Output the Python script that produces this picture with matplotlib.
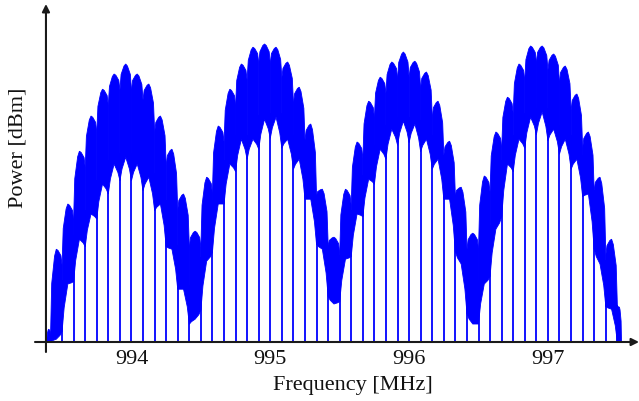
import matplotlib
matplotlib.use("Agg")
import matplotlib.pyplot as plt

# Comb nulls of the spectrum (MHz)
null_freqs = [993.417, 993.500, 993.583, 993.667, 993.750, 993.833, 993.917,
              994.000, 994.083, 994.167, 994.250, 994.333, 994.417, 994.500,
              994.583, 994.667, 994.750, 994.833, 994.917, 995.000, 995.083,
              995.167, 995.250, 995.333, 995.417, 995.500, 995.583, 995.667,
              995.750, 995.833, 995.917, 996.000, 996.083, 996.167, 996.250,
              996.333, 996.417, 996.500, 996.583, 996.667, 996.750, 996.833,
              996.917, 997.000, 997.083, 997.167, 997.250, 997.333, 997.417,
              997.500]
span_start = 993.39   # first measured frequency (MHz)
span_end = 997.53     # last measured frequency (MHz)

# Peak level of each lobe between consecutive nulls (dBm)
lobe_peak = [-96.8, -76.8, -65.5, -52.3, -43.5, -36.8, -33.0, -30.5, -33.0, -35.5,
             -43.5, -51.8, -63.0, -72.3,
             -58.8, -46.0, -36.8, -30.5, -26.3, -25.5, -26.3, -30.0, -36.3, -45.5,
             -61.8, -73.8,
             -61.8, -50.0, -39.8, -33.8, -30.0, -27.5, -29.8, -32.5, -39.8, -49.8,
             -61.3, -72.8,
             -58.5, -47.5, -38.8, -30.5, -26.0, -26.0, -28.0, -31.0, -38.0, -47.5,
             -58.8, -74.3, -91.3]
# Lower edge of the noise band in each lobe (dBm)
lobe_floor = [-100.0, -99.3, -85.5, -74.3, -68.0, -60.5, -55.5, -53.8, -55.5, -58.8,
              -65.5, -76.8, -86.8, -94.3,
              -79.8, -65.5, -55.5, -49.3, -49.3, -44.3, -43.8, -49.3, -54.3, -64.3,
              -76.8, -90.5,
              -79.3, -68.0, -59.3, -51.8, -46.8, -44.8, -45.5, -49.3, -54.3, -64.3,
              -80.5, -95.5,
              -85.5, -71.8, -55.5, -49.3, -43.8, -42.5, -46.8, -49.3, -54.3, -63.0,
              -80.5, -91.8, -100.0]

freq_ticks = [994, 995, 996, 997]
noise_floor = -100.0

BLUE = "#0000ff"
AXIS = "#1a1a1a"
plt.rcParams["font.family"] = ["Liberation Serif", "DejaVu Serif"]

fig = plt.figure(figsize=(6.39, 4.02), dpi=100)
ax = fig.add_axes([35 / 639, 49 / 402, 604 / 639, 348 / 402])
x_lo, x_hi = 993.305, 997.656
y_lo, y_hi = -102.5, -15.5
ax.set_xlim(x_lo, x_hi)
ax.set_ylim(y_lo, y_hi)

edges = [span_start] + null_freqs + [span_end]
n_lobes = len(lobe_peak)
notch_depth = 4.0
flare = 5.0

# upper-envelope notch and band bottom at each edge
notch, edge_floor = [], []
for j in range(len(edges)):
    if j == 0 or j == len(edges) - 1:
        k = 0 if j == 0 else n_lobes - 1
        notch.append(lobe_floor[k])
        edge_floor.append(noise_floor)
        continue
    n = min(lobe_peak[j - 1], lobe_peak[j]) - notch_depth
    n = max(n, lobe_floor[j - 1] + 1.0, lobe_floor[j] + 1.0)
    notch.append(n)
    edge_floor.append(max(0.5 * (lobe_floor[j - 1] + lobe_floor[j]) - flare,
                          noise_floor))

# null lines reaching down to the noise floor
for j, f in enumerate(null_freqs):
    top = max(lobe_floor[j], lobe_floor[j + 1]) + 1.0
    ax.plot([f, f], [noise_floor, top], color=BLUE, lw=1.3, solid_capstyle="butt",
            zorder=2)

# each lobe as a peaked dome over its noise band
for i in range(n_lobes):
    a, b = edges[i], edges[i + 1]
    w = b - a
    c = 0.5 * (a + b)
    p, fl = lobe_peak[i], lobe_floor[i]
    nl, nr = notch[i], notch[i + 1]
    bl, br = edge_floor[i], edge_floor[i + 1]
    xs = [a, a + 0.1 * w, a + 0.35 * w, c, b - 0.35 * w, b - 0.1 * w, b,
          b, b - 0.18 * w, c, a + 0.18 * w, a]
    ys = [nl, p - 0.4 * (p - nl), p - 0.08 * (p - nl), p,
          p - 0.08 * (p - nr), p - 0.4 * (p - nr), nr,
          br, 0.5 * (fl + br), fl, 0.5 * (fl + bl), bl]
    ax.fill(xs, ys, facecolor=BLUE, edgecolor=BLUE, lw=0.6, zorder=3)

# axes drawn as arrows crossing near the origin
for s in ax.spines.values():
    s.set_visible(False)
ax.spines["bottom"].set_position(("data", noise_floor))
y_axis_x = 993.384
ax.annotate("", xy=(x_hi, noise_floor), xytext=(x_lo, noise_floor),
            arrowprops=dict(arrowstyle="-|>", color=AXIS, lw=1.5,
                            mutation_scale=11, shrinkA=0, shrinkB=0),
            annotation_clip=False, zorder=5)
ax.annotate("", xy=(y_axis_x, y_hi), xytext=(y_axis_x, y_lo),
            arrowprops=dict(arrowstyle="-|>", color=AXIS, lw=1.5,
                            mutation_scale=11, shrinkA=0, shrinkB=0),
            annotation_clip=False, zorder=5)

ax.set_xticks(freq_ticks)
ax.set_xticklabels([str(t) for t in freq_ticks])
ax.tick_params(axis="x", length=0, pad=5, labelsize=16, labelcolor="#111111")
ax.set_yticks([])
ax.patch.set_alpha(0)

fig.text(353 / 639, 1 - 386 / 402, "Frequency [MHz]", ha="center", va="center",
         fontsize=16, color="#111111")
fig.text(18 / 639, 1 - 148 / 402, "Power [dBm]", ha="center", va="center",
         rotation=90, fontsize=16, color="#111111")

fig.savefig("out.png", dpi=100)
